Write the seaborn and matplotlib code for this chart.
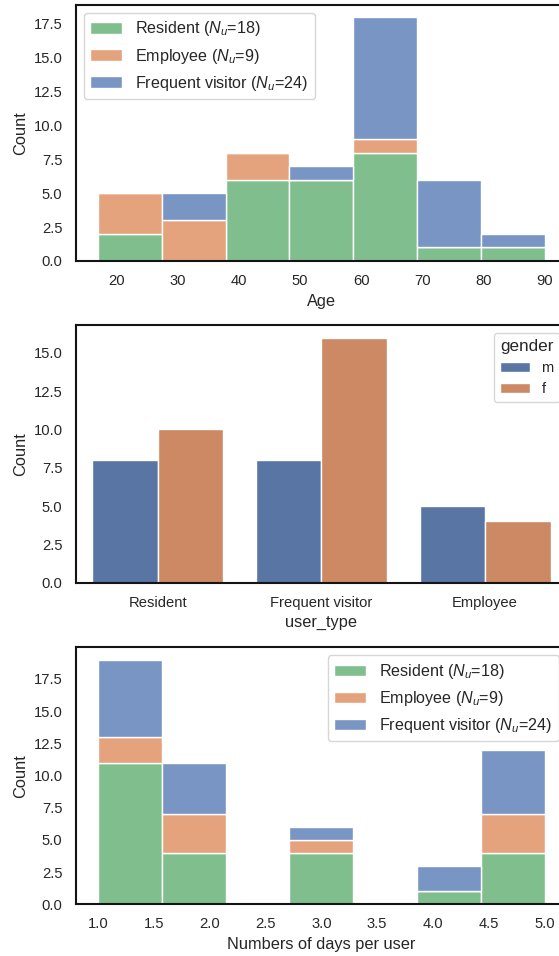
import numpy as np
import pandas as pd
import matplotlib
matplotlib.use("Agg")
import matplotlib.pyplot as plt
import seaborn as sns

# ---- data ----------------------------------------------------------------
groups = ["Frequent visitor", "Employee", "Resident"]          # stacking order (last at bottom)
legend_labels = [r"Resident ($N_u$=18)", r"Employee ($N_u$=9)",
                 r"Frequent visitor ($N_u$=24)"]

# age histogram (representative age of each bin) and counts per group
ages = [22, 32, 43, 53, 64, 74, 85]
age_resident = [2, 0, 6, 6, 8, 1, 1]
age_employee = [3, 3, 2, 0, 1, 0, 0]
age_frequent = [0, 2, 0, 1, 9, 5, 1]

# user counts by type and gender
user_types = ["Resident", "Frequent visitor", "Employee"]
genders = ["m", "f"]
count_m = [8, 8, 5]
count_f = [10, 16, 4]

# number of days per user
days = [1, 2, 3, 4, 5]
days_resident = [11, 4, 4, 1, 4]
days_employee = [2, 3, 1, 0, 3]
days_frequent = [6, 4, 1, 2, 5]

# ---- style ---------------------------------------------------------------
sns.set_theme(style="white", context="notebook", palette="deep")
plt.rcParams["font.family"] = ["Liberation Sans", "DejaVu Sans"]
plt.rcParams["mathtext.fontset"] = "custom"
plt.rcParams["mathtext.rm"] = "Liberation Sans"
plt.rcParams["mathtext.it"] = "Liberation Sans:italic"
plt.rcParams["xtick.labelsize"] = 10.6
plt.rcParams["ytick.labelsize"] = 10.6
plt.rcParams["axes.labelsize"] = 11.8
plt.rcParams["axes.edgecolor"] = "0.08"
plt.rcParams["axes.linewidth"] = 1.5


def long_table(xname, xs, res, emp, freq):
    rows = []
    for g, vals in zip(["Resident", "Employee", "Frequent visitor"], [res, emp, freq]):
        for x, v in zip(xs, vals):
            rows.append({xname: x, "group": g, "n": v})
    return pd.DataFrame(rows)


def stacked_hist(ax, df, xname, binrange, loc):
    sns.histplot(data=df, x=xname, weights="n", hue="group", hue_order=groups,
                 bins=7, binrange=binrange, multiple="stack", palette="deep",
                 edgecolor="white", linewidth=1.0, ax=ax)
    handles = ax.get_legend().legend_handles[::-1]
    ax.legend(handles, legend_labels, loc=loc, fontsize=11.6, frameon=True)


W, H = 559, 956
fig = plt.figure(figsize=(W / 100, H / 100), dpi=100)
left, right = 75.7, 567.0


def axes_box(top_px, bottom_px):
    return [left / W, (H - bottom_px) / H, (right - left) / W, (bottom_px - top_px) / H]


ax1 = fig.add_axes(axes_box(5, 261))
ax2 = fig.add_axes(axes_box(325.3, 582.7))
ax3 = fig.add_axes(axes_box(647.3, 904.3))

# Age distribution
age_df = long_table("Age", ages, age_resident, age_employee, age_frequent)
stacked_hist(ax1, age_df, "Age", (17, 90), "upper left")
ax1.set_xlabel("Age")
ax1.set_ylabel("Count")

# user type by gender
ut_df = pd.DataFrame({
    "user_type": user_types * 2,
    "gender": ["m"] * 3 + ["f"] * 3,
    "Count": count_m + count_f,
})
sns.barplot(data=ut_df, x="user_type", y="Count", hue="gender",
            hue_order=genders, order=user_types, palette="deep",
            edgecolor="white", linewidth=1.0, ax=ax2)
ax2.legend(title="gender", loc="upper right", fontsize=10.6, title_fontsize=12.3)
ax2.set_xlabel("user_type")
ax2.set_ylabel("Count")

# days per user
days_df = long_table("days", days, days_resident, days_employee, days_frequent)
stacked_hist(ax3, days_df, "days", (1, 5), "upper right")
ax3.set_xlabel("Numbers of days per user")
ax3.set_ylabel("Count")

fig.savefig("out.png", dpi=100)
